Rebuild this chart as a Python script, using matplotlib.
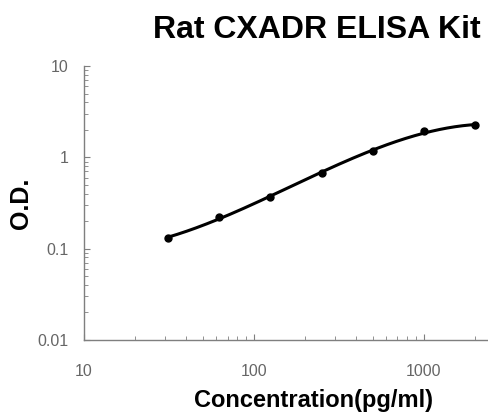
import numpy as np
import matplotlib
matplotlib.use('Agg')
from matplotlib import pyplot as plt
from matplotlib.ticker import LogLocator, FixedLocator, NullFormatter

plt.rcParams['font.family'] = ['Liberation Sans', 'DejaVu Sans']

concentration = [31.25, 62.5, 125, 250, 500, 1000, 2000]
od = [0.131, 0.223, 0.368, 0.68, 1.17, 1.94, 2.24]

x_ticks = [10, 100, 1000]
x_tick_labels = ['10', '100', '1000']
y_ticks = [0.01, 0.1, 1, 10]
y_tick_labels = ['0.01', '0.1', '1', '10']

title = 'Rat CXADR ELISA Kit'
x_label = 'Concentration(pg/ml)'
y_label = 'O.D.'

fig = plt.figure(figsize=(4.89, 4.13), dpi=100)
ax = fig.add_axes([0.172, 0.177, 0.828, 0.663])

# smooth trend line through the standards (cubic fit in log-log space)
lx = np.log10(concentration)
ly = np.log10(od)
coef = np.polyfit(lx, ly, 3)
xs = np.linspace(lx[0], lx[-1], 200)
ax.plot(10 ** xs, 10 ** np.polyval(coef, xs), color='black', lw=2.2, solid_capstyle='round')
ax.plot(concentration, od, 'o', color='black', ms=5)

ax.set_xscale('log')
ax.set_yscale('log')
ax.set_xlim(10, 2420)
ax.set_ylim(0.01, 10)

ax.xaxis.set_major_locator(FixedLocator(x_ticks))
ax.set_xticklabels(x_tick_labels)
ax.yaxis.set_major_locator(FixedLocator(y_ticks))
ax.set_yticklabels(y_tick_labels)
ax.xaxis.set_minor_locator(LogLocator(base=10, subs=np.arange(2, 10)))
ax.yaxis.set_minor_locator(LogLocator(base=10, subs=np.arange(2, 10)))
ax.xaxis.set_minor_formatter(NullFormatter())
ax.yaxis.set_minor_formatter(NullFormatter())

for s in ['top', 'right']:
    ax.spines[s].set_visible(False)
for s in ['left', 'bottom']:
    ax.spines[s].set_color('#7f7f7f')
    ax.spines[s].set_linewidth(1.0)

ax.tick_params(which='both', direction='in', color='#7f7f7f', labelcolor='#666666', labelsize=11.5)
ax.tick_params(which='major', length=4)
ax.tick_params(which='minor', length=3)
ax.tick_params(axis='x', pad=17)
ax.tick_params(axis='y', pad=11)

fig.text(0.648, 0.928, title, fontsize=23, fontweight='bold', ha='center', va='center')
fig.text(0.642, 0.03, x_label, fontsize=17, fontweight='bold', ha='center', va='center')
fig.text(0.043, 0.508, y_label, fontsize=18, fontweight='bold', ha='center', va='center', rotation=90)

fig.savefig('out.png', dpi=100)
